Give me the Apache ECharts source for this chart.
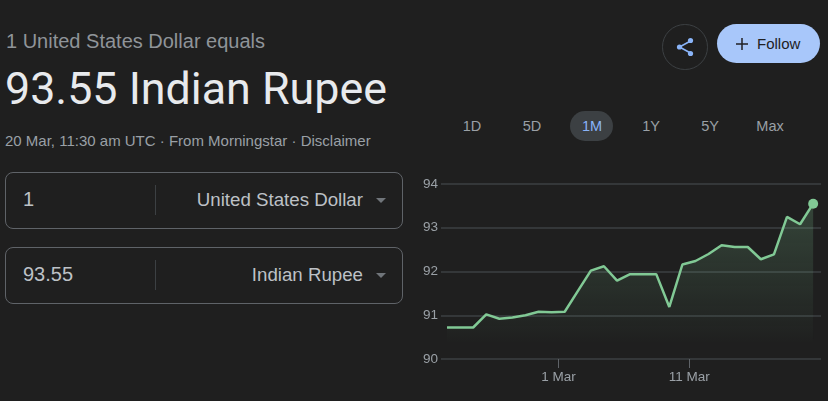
<!DOCTYPE html>
<html>
<head>
<meta charset="utf-8">
<title>USD to INR</title>
<style>
html, body { margin: 0; padding: 0; background: #1f1f1f; overflow: hidden; }
body { width: 828px; height: 401px; position: relative; font-family: "Liberation Sans", Arial, sans-serif; color: #9aa0a6; }
.t { position: absolute; white-space: nowrap; line-height: 1; }
.box { position: absolute; left: 5px; width: 396px; height: 55px; border: 1px solid #5f6368; border-radius: 8px; }
.sep { position: absolute; left: 149px; top: 12px; width: 1px; height: 30px; background: #3c4043; }
.arrow { position: absolute; left: 370px; top: 25px; border-left: 5.5px solid transparent; border-right: 5.5px solid transparent; border-top: 5.5px solid #70757a; }
.val { position: absolute; left: 17px; top: 15px; font-size: 20px; line-height: 1.1; color: #bdc1c6; }
.unit { position: absolute; right: 39px; top: 16px; font-size: 18.7px; line-height: 1.2; color: #bdc1c6; }
#share { position: absolute; left: 662px; top: 24px; width: 43.5px; height: 43.5px; border: 1px solid #3c4043; border-radius: 50%; }
#follow { position: absolute; left: 717px; top: 24px; width: 103px; height: 39px; background: #a8c7fa; border-radius: 20px; }
#follow span { position: absolute; left: 40px; top: 12px; font-size: 15px; line-height: 1; color: #202124; }
#pill { position: absolute; left: 570px; top: 111px; width: 43px; height: 30px; background: #3c4043; border-radius: 15px; }
.tab { position: absolute; top: 118px; width: 50px; text-align: center; font-size: 14.5px; line-height: 16px; }
#chart { position: absolute; left: 420px; top: 170px; width: 408px; height: 220px; }
</style>
</head>
<body>

<div class="t" style="left:6px;top:31px;font-size:20px;color:#8f9499;">1 United States Dollar equals</div>
<div class="t" style="left:5px;top:67px;font-size:44.8px;color:#e8eaed;font-family:Roboto,sans-serif;">93.55 Indian Rupee</div>
<div class="t" style="left:5px;top:133px;font-size:15px;">20 Mar, 11:30 am UTC &middot; From Morningstar &middot; Disclaimer</div>

<div class="box" style="top:172px;">
  <div class="val">1</div><div class="sep"></div>
  <div class="unit">United States Dollar</div><div class="arrow"></div>
</div>
<div class="box" style="top:247px;">
  <div class="val">93.55</div><div class="sep"></div>
  <div class="unit">Indian Rupee</div><div class="arrow"></div>
</div>

<div id="share">
  <svg width="44" height="44" viewBox="0 0 44 44">
    <path d="M27.5 16 L16.5 22 L27.5 28" fill="none" stroke="#8ab4f8" stroke-width="1.6"/>
    <circle cx="27.5" cy="15.5" r="2.6" fill="#8ab4f8"/>
    <circle cx="16.5" cy="22" r="2.6" fill="#8ab4f8"/>
    <circle cx="27.5" cy="28.5" r="2.6" fill="#8ab4f8"/>
  </svg>
</div>
<div id="follow">
  <svg width="40" height="39" viewBox="0 0 40 39" style="position:absolute;left:0;top:0;">
    <path d="M25 14 V26 M19 20 H31" stroke="#202124" stroke-width="1.5" fill="none"/>
  </svg>
  <span>Follow</span>
</div>

<div id="pill"></div>
<div id="tabs"></div>
<div id="chart"></div>

<script src="https://cdn.jsdelivr.net/npm/echarts@6/dist/echarts.min.js"></script>
<script>
var rangeLabels = ['1D', '5D', '1M', '1Y', '5Y', 'Max'];
var rangeCentres = [472, 532, 592, 651, 710, 770];
var activeRange = '1M';

var startDay = '2026-02-20T11:30:00Z';
var rates = [90.72, 90.72, 90.72, 91.02, 90.92, 90.95, 91.00, 91.08, 91.07, 91.08,
             91.55, 92.02, 92.12, 91.79, 91.94, 91.94, 91.94, 91.19, 92.16, 92.24,
             92.40, 92.60, 92.56, 92.56, 92.28, 92.39, 93.25, 93.08, 93.55];
var xTicks = ['2026-03-01T00:00:00Z', '2026-03-11T00:00:00Z'];
var xTickLabels = ['1 Mar', '11 Mar'];
var yTicks = [90, 91, 92, 93, 94];

var tabs = document.getElementById('tabs');
rangeLabels.forEach(function (name, i) {
  var d = document.createElement('div');
  d.className = 'tab';
  d.style.left = (rangeCentres[i] - 25) + 'px';
  d.style.color = name === activeRange ? '#8ab4f8' : '#9aa0a6';
  d.textContent = name;
  tabs.appendChild(d);
});

var DAY = 86400000;
var t0 = Date.parse(startDay);
var seriesData = [];
for (var i = 0; i < rates.length; i++) {
  seriesData.push([t0 + i * DAY, rates[i]]);
}
var tickTimes = xTicks.map(function (s) { return Date.parse(s); });

var myChart = echarts.init(document.getElementById('chart'));
var option = {
  animation: false,
  backgroundColor: 'transparent',
  grid: { left: 20, right: 7, top: 14, bottom: 31, containLabel: false },
  xAxis: {
    // plain value axis holding timestamps, customValues breaks on type time
    type: 'value',
    min: t0 - 0.46 * DAY,
    max: t0 + 28.6 * DAY,
    axisLine: { show: false },
    splitLine: { show: false },
    axisTick: {
      show: true, length: 9, customValues: tickTimes,
      lineStyle: { color: '#5f6368', width: 1 }
    },
    axisLabel: {
      customValues: tickTimes,
      showMinLabel: true,
      showMaxLabel: true,
      margin: 11,
      fontSize: 13.5,
      fontFamily: 'Liberation Sans',
      color: '#9aa0a6',
      formatter: function (v) { return xTickLabels[tickTimes.indexOf(v)]; }
    }
  },
  yAxis: {
    type: 'value',
    min: yTicks[0],
    max: yTicks[yTicks.length - 1],
    interval: 1,
    axisLine: { show: false },
    axisTick: { show: false },
    splitLine: { lineStyle: { color: '#3c4043', width: 1.5 } },
    axisLabel: { margin: 3, fontSize: 13.5, fontFamily: 'Liberation Sans', color: '#9aa0a6' }
  },
  series: [{
    type: 'line',
    data: seriesData,
    showSymbol: true,
    showAllSymbol: true,
    symbol: 'circle',
    symbolSize: function (v, p) { return p.dataIndex === rates.length - 1 ? 10 : 0; },
    lineStyle: { color: '#81c995', width: 2.5 },
    itemStyle: { color: '#81c995' },
    areaStyle: {
      origin: 90.39,
      color: new echarts.graphic.LinearGradient(0, 0, 0, 1, [
        { offset: 0, color: 'rgba(129,201,149,0.32)' },
        { offset: 1, color: 'rgba(129,201,149,0.01)' }
      ])
    }
  }]
};
myChart.setOption(option);
</script>
</body>
</html>
